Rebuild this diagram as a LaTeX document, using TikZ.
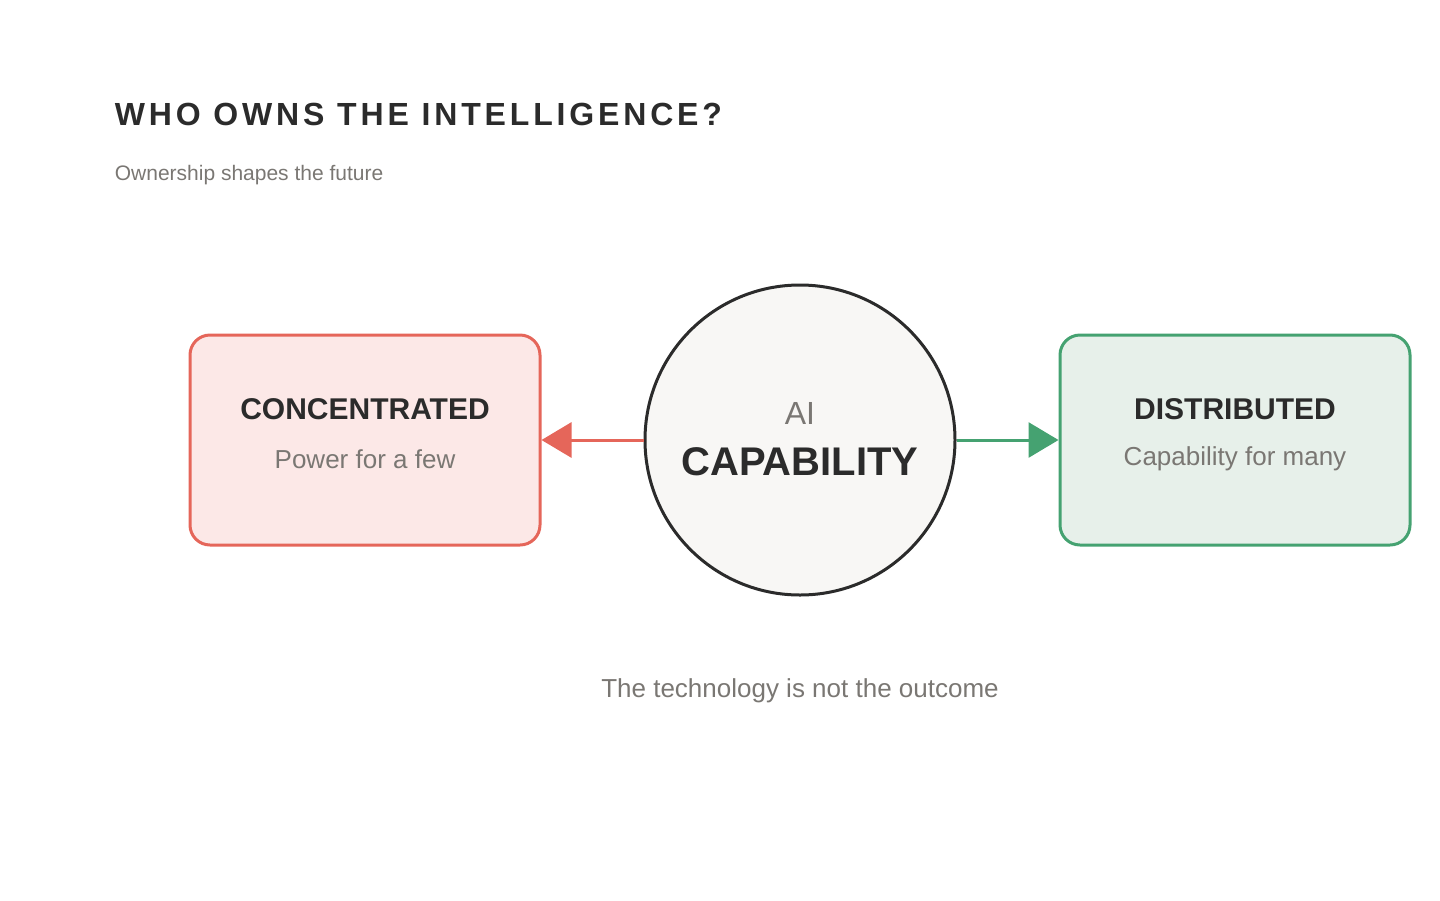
\documentclass[tikz,border=0pt]{standalone}
\usepackage{fontspec}
\setmainfont{Liberation Sans}
\usetikzlibrary{arrows.meta}
\definecolor{redline}{HTML}{E5665A}
\definecolor{redfill}{HTML}{FCE8E7}
\definecolor{greenline}{HTML}{45A271}
\definecolor{greenfill}{HTML}{E7F0EA}
\definecolor{corefill}{HTML}{F8F7F5}
\definecolor{ink}{HTML}{2B2B2B}
\definecolor{muted}{HTML}{7A7773}
\begin{document}
\begin{tikzpicture}[x=1pt, y=-1pt, line width=3pt,
  side box/.style={rounded corners=20pt, minimum width=350pt, minimum height=210pt},
  head/.style={font=\fontsize{30}{36}\selectfont\bfseries, text=ink},
  sub/.style={font=\fontsize{26}{30}\selectfont, text=muted},
  arrow/.style={-{Triangle[length=30pt,width=35pt]}}]
\useasboundingbox (0,0) rectangle (1440,900);
\node[anchor=base west, text=ink, font=\fontsize{32}{38}\selectfont\bfseries\addfontfeatures{LetterSpace=12}] (title) at (110,125) {WHO OWNS THE INTELLIGENCE?};
\node[anchor=base west, text=muted, font=\fontsize{21}{26}\selectfont] (subtitle) at (110,180) {Ownership shapes the future};
\node[circle, draw=ink, fill=corefill, minimum size=310pt] (core) at (800,440) {};
\node[side box, draw=redline, fill=redfill] (conc) at (365,440) {};
\node[side box, draw=greenline, fill=greenfill] (dist) at (1235,440) {};
\node[sub, font=\fontsize{32}{38}\selectfont] (ai) at (800,413) {AI};
\node[head, font=\fontsize{40}{48}\selectfont\bfseries] (cap) at (800,462) {CAPABILITY};
\node[head] (conct) at (365,409) {CONCENTRATED};
\node[sub] (concs) at (365,459) {Power for a few};
\node[head] (distt) at (1235,409) {DISTRIBUTED};
\node[sub] (dists) at (1235,459) {Capability for many};
\node[sub] (note) at (800,691) {The technology is not the outcome};
\draw[arrow, draw=redline, fill=redline] (core.west) -- (conc.east);
\draw[arrow, draw=greenline, fill=greenline] (core.east) -- (dist.west);
\end{tikzpicture}
\end{document}
